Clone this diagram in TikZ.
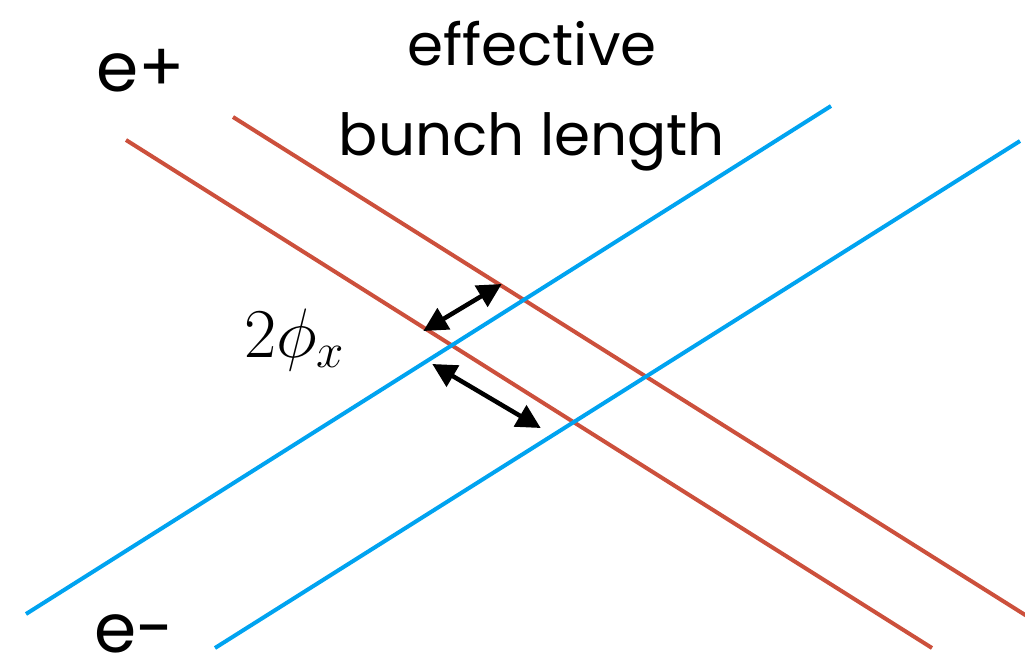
\RequirePackage{fix-cm}
\documentclass[tikz,border=0pt]{standalone}
\usepackage{fontspec}
\setmainfont{Poppins}
\usetikzlibrary{arrows.meta}
\definecolor{posred}{RGB}{204,80,60}
\definecolor{eleblue}{RGB}{0,163,240}
\tikzset{
  beamred/.style={draw=posred,line width=4pt},
  beamblue/.style={draw=eleblue,line width=4pt},
  dimarrow/.style={draw=black,line width=4.5pt,{Triangle[length=24pt,width=24pt]}-{Triangle[length=24pt,width=24pt]},shorten <=-2pt,shorten >=-2pt},
  lbl/.style={inner sep=0pt,anchor=base west}
}
\begin{document}
\begin{tikzpicture}[x=1pt,y=-1pt]
\useasboundingbox (0,0) rectangle (1025,653);
% beams
\coordinate (r1a) at (126,140); \coordinate (r1b) at (932,648);
\coordinate (r2a) at (233,117); \coordinate (r2b) at (1030,618);
\coordinate (b1a) at (26,614); \coordinate (b1b) at (831,106);
\coordinate (b2a) at (215,648); \coordinate (b2b) at (1020,141);
\draw[beamred] (r1a) -- (r1b);
\draw[beamred] (r2a) -- (r2b);
\draw[beamblue] (b1a) -- (b1b);
\draw[beamblue] (b2a) -- (b2b);
% arrows
\coordinate (a1s) at (425,330); \coordinate (a1e) at (500,285);
\coordinate (a2s) at (434,365); \coordinate (a2e) at (539,427);
\draw[dimarrow] (a1s) -- (a1e);
\draw[dimarrow] (a2s) -- (a2e);
% labels
\node[lbl,font=\fontsize{68pt}{70pt}\selectfont] (ep) at (96,91) {e+};
\node[lbl,font=\fontsize{68pt}{70pt}\selectfont] (em) at (94,652) {e-};
\node[inner sep=0pt,anchor=base,font=\fontsize{58pt}{60pt}\selectfont] (eff) at (532,65) {effective};
\node[inner sep=0pt,anchor=base,font=\fontsize{58pt}{60pt}\selectfont] (bun) at (532,155) {bunch length};
\node[lbl,font=\fontsize{70pt}{72pt}\selectfont] (phi) at (244,357) {$2\phi_x$};
\end{tikzpicture}
\end{document}
